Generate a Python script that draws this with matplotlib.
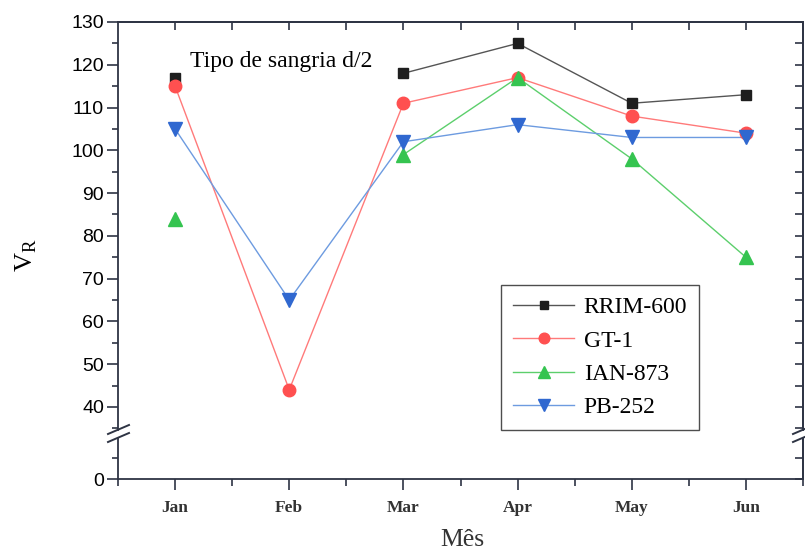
import numpy as np
import matplotlib
matplotlib.use('Agg')
import matplotlib.pyplot as plt
from matplotlib.lines import Line2D
from matplotlib.ticker import MultipleLocator

# dados (Feb ausente para RRIM-600 e IAN-873)
meses = ['Jan', 'Feb', 'Mar', 'Apr', 'May', 'Jun']
rrim600 = [117, np.nan, 118, 125, 111, 113]
gt1 = [115, 44, 111, 117, 108, 104]
ian873 = [84, np.nan, 99, 117, 98, 75]
pb252 = [105, 65, 102, 106, 103, 103]

W, H = 805, 553
fig = plt.figure(figsize=(W / 100, H / 100), dpi=100)

def fx(px):
    return px / W

def fy(py):
    return 1 - py / H

left, right = 118, 803
top, brk_top, brk_bot, bottom = 22, 430, 438, 479
spine_c = '#2e3444'

ax = fig.add_axes([fx(left), fy(brk_top), fx(right - left), fy(top) - fy(brk_top)])
ax2 = fig.add_axes([fx(left), fy(bottom), fx(right - left), fy(brk_bot) - fy(bottom)])

x = np.arange(1, 7)
series = [
    ('RRIM-600', rrim600, 's', '#1e1e1e', '#555555', 7.5),
    ('GT-1', gt1, 'o', '#ff5050', '#ff7a7a', 9),
    ('IAN-873', ian873, '^', '#35c450', '#5ccf6c', 9.5),
    ('PB-252', pb252, 'v', '#3068d0', '#6d9be0', 9.5),
]
for name, vals, mk, mc, lc, ms in series:
    v = np.array(vals, dtype=float)
    ax.plot(x, v, color=lc, lw=1.0, zorder=2)
    ax.plot(x, v, ls='none', marker=mk, ms=ms, color=mc, mec=mc, zorder=3)

ax.set_xlim(0.5, 6.5)
ax2.set_xlim(0.5, 6.5)
ax.set_ylim(34.6, 130)
ax2.set_ylim(0, 9.6)

for a in (ax, ax2):
    for s in a.spines.values():
        s.set_color(spine_c)
        s.set_linewidth(1.3)
ax.spines['bottom'].set_visible(False)
ax2.spines['top'].set_visible(False)

# eixo y (parte de cima)
ax.set_yticks(np.arange(40, 131, 10))
ax.yaxis.set_minor_locator(MultipleLocator(5))
ax.tick_params(axis='y', which='major', direction='out', length=8, width=1.2,
               color=spine_c, labelsize=14, pad=2)
ax.tick_params(axis='y', which='minor', direction='out', length=4, width=1.2, color=spine_c)
for lab in ax.get_yticklabels():
    lab.set_fontfamily('Liberation Sans')
ax.set_xticks([])
ax.tick_params(axis='x', bottom=False, labelbottom=False)

# eixo y (parte de baixo)
ax2.set_yticks([0])
ax2.yaxis.set_minor_locator(MultipleLocator(5))
ax2.tick_params(axis='y', which='major', direction='out', length=8, width=1.2,
                color=spine_c, labelsize=14, pad=2)
ax2.tick_params(axis='y', which='minor', direction='out', length=4, width=1.2, color=spine_c)
for lab in ax2.get_yticklabels():
    lab.set_fontfamily('Liberation Sans')

ax2.set_xticks(x)
ax2.set_xticklabels(meses, fontfamily='Liberation Serif', fontsize=12.5, fontweight='bold',
                    color='#333333')
ax2.xaxis.set_minor_locator(MultipleLocator(0.5))
ax2.tick_params(axis='x', which='major', direction='out', length=8, width=1.2, color=spine_c, pad=7)
ax2.tick_params(axis='x', which='minor', direction='out', length=5, width=1.2, color=spine_c)

# ticks internos à direita e em cima
for a, yt in ((ax, np.arange(35, 131, 5)), (ax2, [0, 5])):
    sec = a.secondary_yaxis('right')
    sec.set_yticks(yt)
    sec.tick_params(direction='in', length=6, width=1.2, color=spine_c, labelright=False)
    sec.spines['right'].set_color(spine_c)
    sec.spines['right'].set_linewidth(1.3)
sect = ax.secondary_xaxis('top')
sect.set_xticks(np.arange(1, 7, 0.5))
sect.tick_params(direction='in', length=6, width=1.2, color=spine_c, labeltop=False)
sect.spines['top'].set_color(spine_c)
sect.spines['top'].set_linewidth(1.3)

# marcas de quebra
for xs in (left, right):
    for dy in (0, 8):
        fig.add_artist(Line2D([fx(xs - 10), fx(xs + 11)], [fy(434 + dy), fy(425 + dy)],
                              color=spine_c, lw=1.4, transform=fig.transFigure, clip_on=False))

ax.text(fx(190), fy(62), 'Tipo de sangria d/2', transform=fig.transFigure,
        fontfamily='Liberation Serif', fontsize=17, va='center', ha='left')

fig.text(fx(462), fy(540), 'Mês', fontfamily='Liberation Serif', fontsize=18.5,
         ha='center', va='center', color='#333333')
fig.text(fx(26), fy(255), r'V$_\mathregular{R}$', fontfamily='Liberation Serif', fontsize=19,
         rotation=90, ha='center', va='center')

handles = [Line2D([], [], color=lc, lw=1.0, marker=mk, ms=ms * 0.85, mfc=mc, mec=mc)
           for name, vals, mk, mc, lc, ms in series]
leg = ax.legend(handles, [s[0] for s in series], loc='upper left',
                bbox_to_anchor=(fx(501), fy(285)), bbox_transform=fig.transFigure,
                prop={'family': 'Liberation Serif', 'size': 17}, frameon=True,
                fancybox=False, edgecolor='#222222', handlelength=2.6,
                handletextpad=0.4, labelspacing=0.5, borderpad=0.5, borderaxespad=0)
leg.get_frame().set_linewidth(1.0)

fig.savefig('out.png', dpi=100)
